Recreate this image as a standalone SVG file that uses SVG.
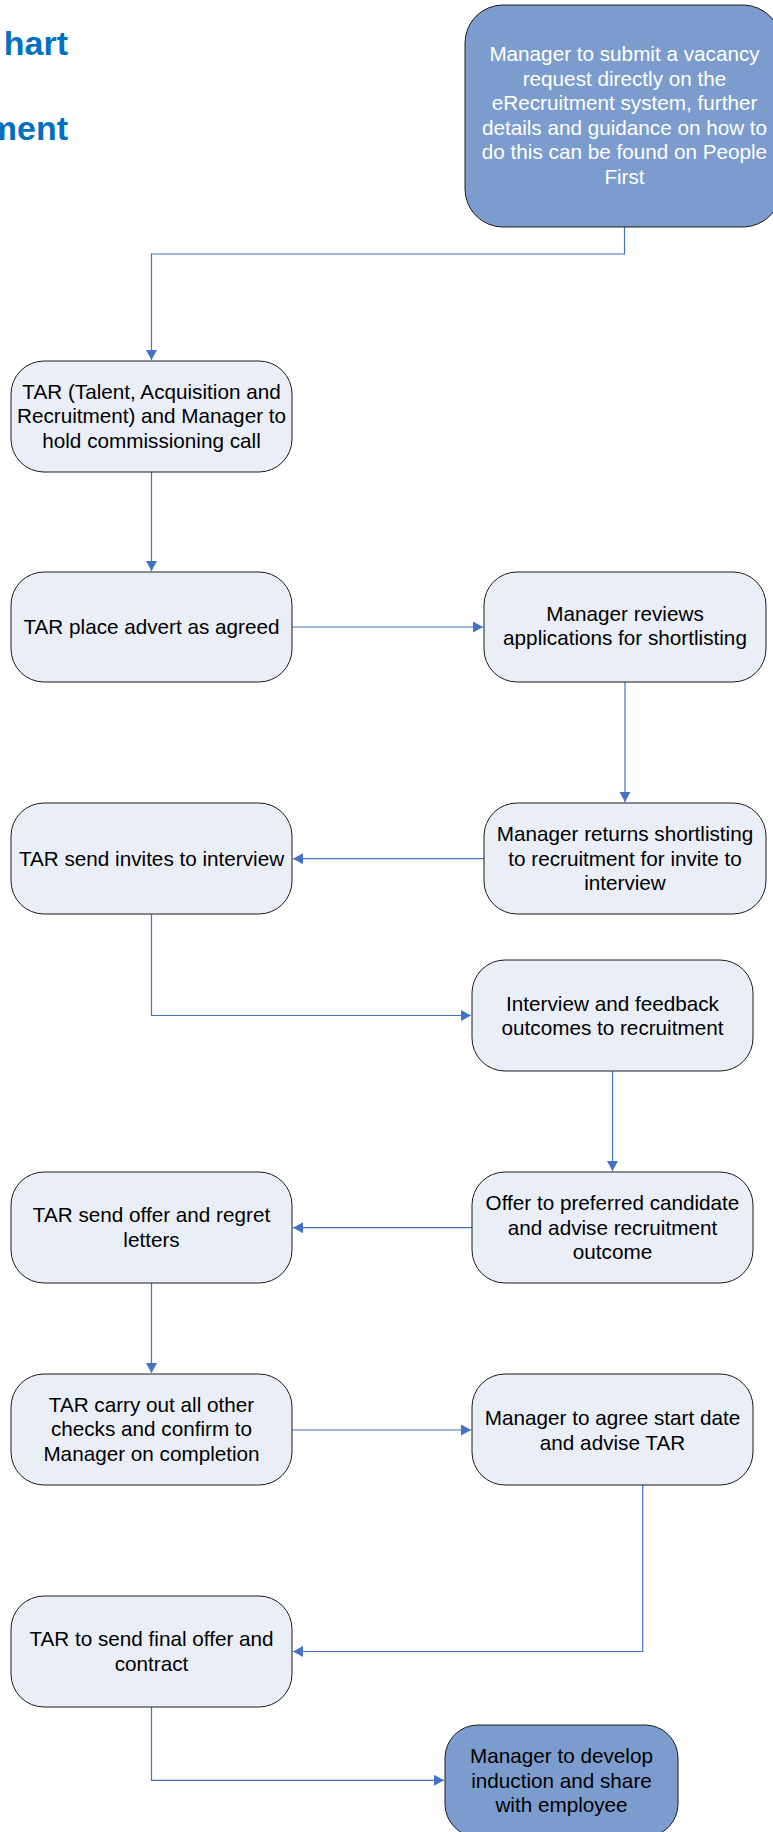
<svg xmlns="http://www.w3.org/2000/svg" width="773" height="1832" viewBox="0 0 773 1832">
<style>
.n{fill:#E9EEF7;stroke:#1a1a1a;stroke-width:1}
.d{fill:#7C9CCD;stroke:#1a1a1a;stroke-width:1}
.t{font-family:"Liberation Sans",Arial,sans-serif;font-size:20.7px;fill:#000;text-anchor:middle}
.w{fill:#fff}
.c{fill:none;stroke:#4472C4;stroke-width:1.2}
.h{font-family:"Liberation Sans",Arial,sans-serif;font-size:34px;font-weight:bold;fill:#0070C0;text-anchor:end}
</style>
<defs>
<marker id="a" markerUnits="userSpaceOnUse" markerWidth="11" markerHeight="12" refX="10" refY="5.5" orient="auto">
<path d="M0,0 L10,5.5 L0,11 z" fill="#4472C4"/>
</marker>
</defs>
<rect width="773" height="1832" fill="#fff"/>
<g id="title">
<text class="h" x="68" y="55">hart</text>
<text class="h" x="68" y="140">ment</text>
</g>
<g id="connectors">
<path class="c" d="M624.5 227 V254 H151.5 V360" marker-end="url(#a)"/>
<path class="c" d="M151.5 472 V571" marker-end="url(#a)"/>
<path class="c" d="M292 627 H483" marker-end="url(#a)"/>
<path class="c" d="M625 682 V802" marker-end="url(#a)"/>
<path class="c" d="M484 858.7 H293" marker-end="url(#a)"/>
<path class="c" d="M151.5 914 V1015.5 H471" marker-end="url(#a)"/>
<path class="c" d="M612.5 1071 V1171" marker-end="url(#a)"/>
<path class="c" d="M472 1227.7 H293" marker-end="url(#a)"/>
<path class="c" d="M151.5 1283 V1373" marker-end="url(#a)"/>
<path class="c" d="M292 1430 H471" marker-end="url(#a)"/>
<path class="c" d="M642.7 1485 V1651.5 H293" marker-end="url(#a)"/>
<path class="c" d="M151.5 1707 V1780.3 H444" marker-end="url(#a)"/>
</g>
<g id="n1">
<rect class="d" x="465" y="5" width="316" height="222" rx="38" ry="38"/>
<text class="t w" x="624.5" y="61">Manager to submit a vacancy</text>
<text class="t w" x="624.5" y="85.6">request directly on the</text>
<text class="t w" x="624.5" y="110.2">eRecruitment system, further</text>
<text class="t w" x="624.5" y="134.8">details and guidance on how to</text>
<text class="t w" x="624.5" y="159.4">do this can be found on People</text>
<text class="t w" x="624.5" y="184">First</text>
</g>
<g id="n2">
<rect class="n" x="11" y="361" width="281" height="111" rx="33" ry="33"/>
<text class="t" x="151.5" y="398.5">TAR (Talent, Acquisition and</text>
<text class="t" x="151.5" y="423">Recruitment) and Manager to</text>
<text class="t" x="151.5" y="447.5">hold commissioning call</text>
</g>
<g id="n3">
<rect class="n" x="11" y="572" width="281" height="110" rx="33" ry="33"/>
<text class="t" x="151.5" y="633.5">TAR place advert as agreed</text>
</g>
<g id="n4">
<rect class="n" x="484" y="572" width="282" height="110" rx="33" ry="33"/>
<text class="t" x="625" y="620.5">Manager reviews</text>
<text class="t" x="625" y="645">applications for shortlisting</text>
</g>
<g id="n5">
<rect class="n" x="11" y="803" width="281" height="111" rx="33" ry="33"/>
<text class="t" x="151.5" y="865.7">TAR send invites to interview</text>
</g>
<g id="n6">
<rect class="n" x="484" y="803" width="282" height="111" rx="33" ry="33"/>
<text class="t" x="625" y="841">Manager returns shortlisting</text>
<text class="t" x="625" y="865.5">to recruitment for invite to</text>
<text class="t" x="625" y="890">interview</text>
</g>
<g id="n7">
<rect class="n" x="472" y="960" width="281" height="111" rx="33" ry="33"/>
<text class="t" x="612.5" y="1010.5">Interview and feedback</text>
<text class="t" x="612.5" y="1035">outcomes to recruitment</text>
</g>
<g id="n8">
<rect class="n" x="472" y="1172" width="281" height="111" rx="33" ry="33"/>
<text class="t" x="612.5" y="1210">Offer to preferred candidate</text>
<text class="t" x="612.5" y="1234.5">and advise recruitment</text>
<text class="t" x="612.5" y="1259">outcome</text>
</g>
<g id="n9">
<rect class="n" x="11" y="1172" width="281" height="111" rx="33" ry="33"/>
<text class="t" x="151.5" y="1222">TAR send offer and regret</text>
<text class="t" x="151.5" y="1246.5">letters</text>
</g>
<g id="n10">
<rect class="n" x="11" y="1374" width="281" height="111" rx="33" ry="33"/>
<text class="t" x="151.5" y="1411.7">TAR carry out all other</text>
<text class="t" x="151.5" y="1436.3">checks and confirm to</text>
<text class="t" x="151.5" y="1461">Manager on completion</text>
</g>
<g id="n11">
<rect class="n" x="472" y="1374" width="281" height="111" rx="33" ry="33"/>
<text class="t" x="612.5" y="1425">Manager to agree start date</text>
<text class="t" x="612.5" y="1449.5">and advise TAR</text>
</g>
<g id="n12">
<rect class="n" x="11" y="1596" width="281" height="111" rx="33" ry="33"/>
<text class="t" x="151.5" y="1646">TAR to send final offer and</text>
<text class="t" x="151.5" y="1670.5">contract</text>
</g>
<g id="n13">
<rect class="d" x="445" y="1725" width="233" height="112" rx="33" ry="33"/>
<text class="t" x="561.5" y="1763.3">Manager to develop</text>
<text class="t" x="561.5" y="1787.8">induction and share</text>
<text class="t" x="561.5" y="1812.3">with employee</text>
</g>
</svg>
